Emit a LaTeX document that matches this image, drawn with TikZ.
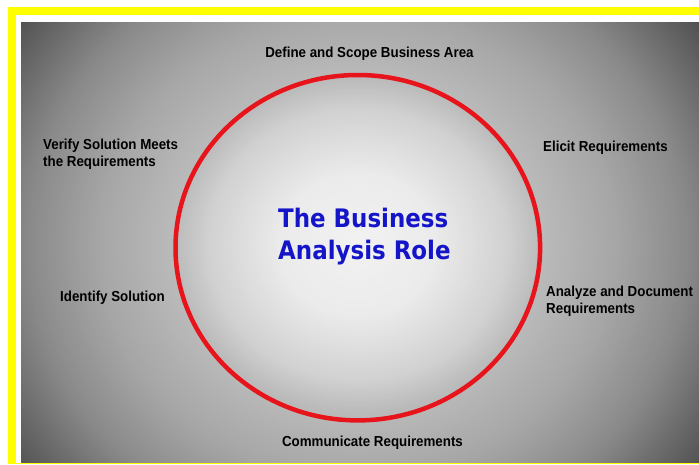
\documentclass[tikz,border=0pt]{standalone}
\usepackage{fontspec}
\newfontfamily\labelfont{Liberation Sans}[FakeStretch=0.92]
\newfontfamily\titlefont{DejaVu Sans}[FakeStretch=0.9]
\definecolor{frameyellow}{HTML}{FFFF00}
\definecolor{ringred}{HTML}{E8141C}
\definecolor{titleblue}{HTML}{1414C8}
\begin{document}
\begin{tikzpicture}[x=1pt,y=-1pt,
  lbl/.style={font=\labelfont\bfseries\fontsize{14.5}{17}\selectfont, inner sep=0pt, text=black, align=left},
  ttl/.style={font=\titlefont\bfseries\fontsize{25.5}{32}\selectfont, inner sep=0pt, text=titleblue}]
\useasboundingbox (0,0) rectangle (699,464);
% frame
\fill[white] (0,0) rectangle (699,464);
\fill[frameyellow] (8,7) rectangle (699,464);
\fill[white] (16,15) rectangle (699,462.5);
% vignette background
\coordinate (vc) at (358,245);
\begin{scope}
  \clip (21,22) rectangle (699,462.5);
  \foreach \r in {422,420,...,2} {
    \pgfmathsetmacro\g{\r>330 ? max(0.30,0.54-(\r-330)/86*0.21) : (\r>260 ? 0.65-(\r-260)/70*0.11 : (\r>185 ? 0.73-(\r-185)/75*0.08 : (\r>150 ? 0.82-(\r-150)/35*0.09 : (\r>80 ? 0.92-(\r-80)/70*0.10 : 0.95-\r/80*0.03))))}
    \pgfmathsetmacro\ry{\r/1.1}
    \definecolor{bgc}{gray}{\g}
    \fill[bgc] (vc) ellipse [x radius=\r pt, y radius=\ry pt];
  }
\end{scope}
% ring
\draw[ringred, line width=4.5pt] (357.8,247.7) ellipse [x radius=182.3pt, y radius=172.7pt];
% title
\node[ttl, anchor=base west] (title1) at (278,227) {The Business};
\node[ttl, anchor=base west] (title2) at (278,259) {Analysis Role};
% labels
\node[lbl, anchor=base] (define) at (369.5,57) {Define and Scope Business Area};
\node[lbl, anchor=base west] (elicit) at (543,151) {Elicit Requirements};
\node[lbl, anchor=north west] (verify) at (43,139) {Verify Solution Meets\\the Requirements};
\node[lbl, anchor=base west] (identify) at (60,301) {Identify Solution};
\node[lbl, anchor=north west] (analyze) at (546,286) {Analyze and Document\\Requirements};
\node[lbl, anchor=base] (communicate) at (372.5,446) {Communicate Requirements};
\end{tikzpicture}
\end{document}
